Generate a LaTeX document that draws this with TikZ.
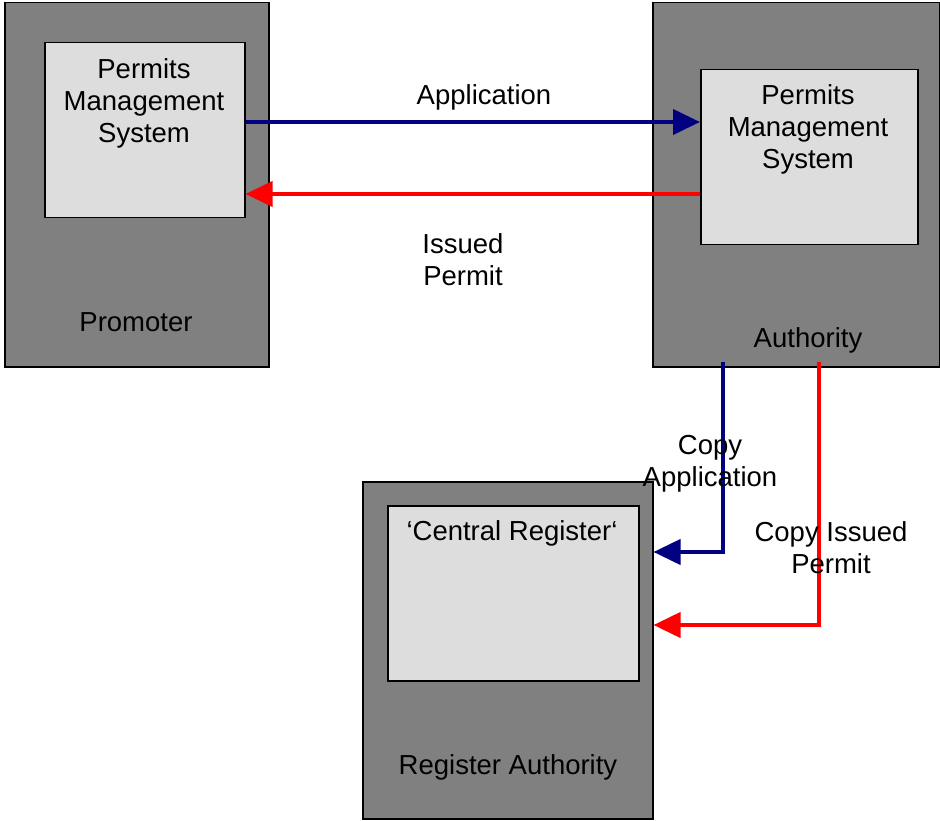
\documentclass[tikz,border=0pt]{standalone}
\usepackage{fontspec}
\setmainfont{Liberation Sans}
\usetikzlibrary{arrows.meta}
\definecolor{outergray}{HTML}{808080}
\definecolor{innergray}{HTML}{DDDDDD}
\definecolor{navyline}{HTML}{000080}
\definecolor{redline}{HTML}{FF0000}
\tikzset{
  outerbox/.style={draw=black, line width=1.5pt, fill=outergray, inner sep=0pt, anchor=north west},
  innerbox/.style={draw=black, line width=1.5pt, fill=innergray, inner sep=0pt, anchor=north west},
  lbl/.style={font=\fontsize{27.5}{32}\selectfont, align=center, inner sep=0pt, text=black},
  bluearrow/.style={draw=navyline, line width=4pt, -{Triangle[length=27pt,width=25pt]}},
  redarrow/.style={draw=redline, line width=4pt, -{Triangle[length=27pt,width=25pt]}},
}
\begin{document}
\begin{tikzpicture}[x=1pt,y=-1pt]
\useasboundingbox[fill=white] (0,0) rectangle (940,821);
% Promoter
\node[outerbox, minimum width=264pt, minimum height=364pt] (prom) at (4,2) {};
\node[innerbox, minimum width=200pt, minimum height=175pt] (pms1) at (44,42) {};
\node[lbl] (pms1t) at (144,103) {Permits\\Management\\System};
\node[lbl] (promt) at (136,322.5) {Promoter};
% Authority
\node[outerbox, minimum width=287pt, minimum height=364pt] (auth) at (652,2) {};
\node[innerbox, minimum width=217pt, minimum height=175pt] (pms2) at (700,69) {};
\node[lbl] (pms2t) at (808,129.5) {Permits\\Management\\System};
\node[lbl] (autht) at (808,340.5) {Authority};
% Register Authority
\node[outerbox, minimum width=290pt, minimum height=337pt] (reg) at (362,481) {};
\node[innerbox, minimum width=251pt, minimum height=175pt] (creg) at (387,505) {};
\node[lbl] (cregt) at (512,533) {‘Central Register‘};
\node[lbl] (regt) at (508,767) {Register Authority};
% main arrows
\draw[bluearrow] (pms1.east |- 0,122) -- (pms2.west |- 0,122);
\draw[redarrow] (pms2.west |- 0,194) -- (pms1.east |- 0,194);
\node[lbl] (applt) at (484,97.3) {Application};
\node[lbl] (isst) at (463,260) {Issued\\Permit};
% copy arrows
\coordinate (cb) at (723,362);
\coordinate (cr) at (819,362);
\draw[bluearrow] (cb) |- (reg.east |- 0,552);
\draw[redarrow] (cr) |- (reg.east |- 0,625);
\node[lbl] (copyat) at (710,463.5) {Copy\\Application};
\node[lbl] (copyit) at (831,547.5) {Copy Issued\\Permit};
\end{tikzpicture}
\end{document}
